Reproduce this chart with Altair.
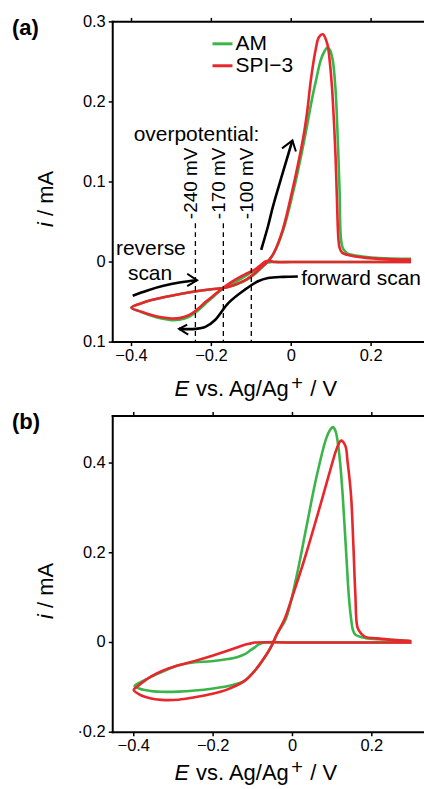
import altair as alt
import pandas as pd

FONT = "Liberation Sans"
GREEN = "#3ab54a"
RED = "#e8262b"

series_names = ["AM", "SPI−3"]
series_colors = [GREEN, RED]

x_ticks = [-0.4, -0.2, 0.0, 0.2]
x_tick_labels = ["−0.4", "−0.2", "0", "0.2"]
a_y_ticks = [-0.1, 0.0, 0.1, 0.2, 0.3]
a_y_tick_labels = ["0.1", "0", "0.1", "0.2", "0.3"]
b_y_ticks = [-0.2, 0.0, 0.2, 0.4]
b_y_tick_labels = ["·0.2", "0", "0.2", "0.4"]
a_x_domain = [-0.447, 0.33]
a_y_domain = [-0.1, 0.3]
b_x_domain = [-0.453, 0.329]
b_y_domain = [-0.2, 0.505]

# ---------- panel (a): AM (green) ; forward scan 0.3 -> -0.4 V, then reverse ----------
a_am_E = [0.30, 0.20, 0.10, 0.00, -0.05, -0.062, -0.075, -0.09, -0.11, -0.13,
          -0.15, -0.17, -0.19, -0.215, -0.235, -0.255, -0.28, -0.30, -0.325, -0.35,
          -0.375, -0.40,
          -0.375, -0.35, -0.30, -0.25, -0.20, -0.17, -0.15, -0.13, -0.11, -0.09,
          -0.075, -0.06, -0.045, -0.02, 0.006, 0.019, 0.035, 0.045, 0.053, 0.063,
          0.0737, 0.083, 0.0905, 0.097, 0.104, 0.111, 0.1166, 0.121, 0.124, 0.128,
          0.1315, 0.14, 0.152, 0.22, 0.30]
a_am_i = [0.0, 0.0, 0.0, 0.0, 0.0, -0.001, -0.005, -0.010, -0.016, -0.022,
          -0.027, -0.033, -0.041, -0.052, -0.061, -0.068, -0.072, -0.0725, -0.0705, -0.067,
          -0.0625, -0.057,
          -0.0515, -0.0475, -0.042, -0.0375, -0.034, -0.0325, -0.030, -0.0265, -0.0215, -0.0145,
          -0.0075, 0.0, 0.010, 0.040, 0.090, 0.119, 0.158, 0.185, 0.206, 0.229,
          0.252, 0.263, 0.268, 0.265, 0.252, 0.215, 0.152, 0.090, 0.032, 0.019,
          0.0153, 0.011, 0.009, 0.005, 0.004]

# ---------- panel (a): SPI-3 (red) ----------
a_spi_E = [0.30, 0.20, 0.10, 0.00, -0.04, -0.055, -0.066, -0.077, -0.09, -0.11,
           -0.13, -0.15, -0.17, -0.19, -0.215, -0.235, -0.255, -0.28, -0.30, -0.325,
           -0.35, -0.375, -0.40,
           -0.375, -0.35, -0.30, -0.25, -0.20, -0.17, -0.15, -0.13, -0.11, -0.09,
           -0.075, -0.06, -0.045, -0.0215, 0.003, 0.0157, 0.032, 0.0405, 0.049, 0.061,
           0.0695, 0.079, 0.090, 0.097, 0.1025, 0.107, 0.111, 0.115, 0.118, 0.121,
           0.127, 0.14, 0.16, 0.22, 0.30]
a_spi_i = [0.0, 0.0, 0.0, 0.0, 0.0, 0.0015, 0.0005, -0.004, -0.009, -0.014,
           -0.019, -0.025, -0.032, -0.040, -0.050, -0.059, -0.066, -0.070, -0.0705, -0.069,
           -0.066, -0.062, -0.057,
           -0.0515, -0.0475, -0.042, -0.0375, -0.034, -0.0325, -0.030, -0.026, -0.021, -0.0135,
           -0.0065, 0.0, 0.010, 0.040, 0.090, 0.119, 0.161, 0.190, 0.227, 0.265,
           0.281, 0.2845, 0.273, 0.248, 0.215, 0.175, 0.132, 0.069, 0.030, 0.018,
           0.012, 0.009, 0.007, 0.004, 0.003]

# ---------- panel (b): AM (green) ----------
b_am_E = [0.30, 0.0, -0.07, -0.085, -0.095, -0.11, -0.12, -0.14, -0.162, -0.204,
          -0.246, -0.287, -0.33, -0.355, -0.375, -0.398,
          -0.385, -0.372, -0.35, -0.33, -0.287, -0.246, -0.204, -0.162, -0.135, -0.12,
          -0.095, -0.07, -0.053, -0.04, -0.016, 0.0093, 0.0344, 0.0595, 0.0847, 0.095,
          0.1015, 0.108, 0.114, 0.12, 0.1266, 0.1317, 0.1367, 0.1418, 0.1476, 0.1518,
          0.1585, 0.185, 0.227, 0.294]
b_am_i = [0.0, 0.0, 0.0, -0.004, -0.011, -0.020, -0.026, -0.033, -0.037, -0.042,
          -0.044, -0.051, -0.066, -0.076, -0.085, -0.097,
          -0.103, -0.106, -0.109, -0.110, -0.1095, -0.107, -0.103, -0.097, -0.091, -0.085,
          -0.063, -0.033, -0.008, 0.017, 0.054, 0.143, 0.254, 0.365, 0.454, 0.474,
          0.480, 0.4726, 0.447, 0.402, 0.328, 0.254, 0.18, 0.106, 0.054, 0.030,
          0.0175, 0.0096, 0.007, 0.004]

# ---------- panel (b): SPI-3 (red) ----------
b_spi_E = [0.30, 0.0, -0.095, -0.105, -0.12, -0.14, -0.162, -0.204, -0.246, -0.287,
           -0.33, -0.355, -0.372, -0.388, -0.40,
           -0.385, -0.372, -0.35, -0.33, -0.287, -0.246, -0.204, -0.162, -0.12, -0.095,
           -0.07, -0.053, -0.04, -0.019, -0.005, 0.030, 0.065, 0.0973, 0.1115, 0.1225,
           0.133, 0.139, 0.1476, 0.1535, 0.1585, 0.164, 0.173, 0.185, 0.21, 0.25,
           0.30]
b_spi_i = [0.0, 0.0, 0.0, -0.002, -0.005, -0.011, -0.018, -0.030, -0.041, -0.051,
           -0.064, -0.075, -0.085, -0.096, -0.106,
           -0.116, -0.121, -0.126, -0.128, -0.1275, -0.122, -0.115, -0.104, -0.085, -0.063,
           -0.033, -0.008, 0.017, 0.054, 0.090, 0.185, 0.290, 0.391, 0.432, 0.450,
           0.439, 0.402, 0.328, 0.217, 0.107, 0.033, 0.020, 0.012, 0.0095, 0.006,
           0.003]

# ---------- panel (a) annotations ----------
overpot_E = [-0.24, -0.17, -0.10]
overpot_labels = ["-240 mV", "-170 mV", "-100 mV"]
overpot_label_E = [-0.25, -0.18, -0.11]

arr_rev_E = [-0.397, -0.36, -0.3225, -0.28, -0.2357]
arr_rev_i = [-0.042, -0.0355, -0.030, -0.0255, -0.0228]
head_rev_E = [-0.2605, -0.2357, -0.2605]
head_rev_i = [-0.0146, -0.0228, -0.030]

arr_fwd_E = [0.0166, -0.02, -0.058, -0.083, -0.116, -0.157, -0.19, -0.215, -0.24, -0.281]
arr_fwd_i = [-0.018, -0.0185, -0.020, -0.024, -0.0345, -0.051, -0.072, -0.081, -0.0835, -0.0835]
head_fwd_E = [-0.2605, -0.281, -0.258]
head_fwd_i = [-0.078, -0.0835, -0.0906]

arr_up_E = [-0.0752, -0.058, -0.046, -0.0215, 0.003]
arr_up_i = [0.0153, 0.045, 0.069, 0.111, 0.152]
head_up_E = [-0.023, 0.003, 0.0117]
head_up_i = [0.142, 0.152, 0.138]

ann_text = ["overpotential:", "reverse", "scan", "forward scan"]
ann_E = [-0.3945, -0.439, -0.409, 0.0248]
ann_i = [0.1517, 0.0091, -0.022, -0.0287]


def line_df(E, I, key="s"):
    assert len(E) == len(I), (len(E), len(I))
    return pd.DataFrame({"E": E, "i": I, "idx": list(range(len(E))), "id": key})


W = 311
HA = 321
HB = 317
TICK = 4


def one():
    return pd.DataFrame({"a": [0]})


def txt(s, x, y, size, **kw):
    return alt.Chart(pd.DataFrame({"t": [s]})).mark_text(
        font=FONT, fontSize=size, color="black", **kw
    ).encode(x=alt.value(x), y=alt.value(y), text="t:N")


def frame_layers(xs, ys, H, yticks, ylabels):
    X = lambda: alt.X("E:Q", scale=xs, axis=None)
    Y = lambda: alt.Y("v:Q", scale=ys, axis=None)
    xt = pd.DataFrame({"E": x_ticks, "t": x_tick_labels})
    yt = pd.DataFrame({"v": yticks, "t": ylabels})
    dom = dict(color="black", strokeWidth=2, strokeCap="square")
    tk = dict(color="black", strokeWidth=1.5)
    return [
        # domain lines: left, top, bottom
        alt.Chart(one()).mark_rule(**dom).encode(x=alt.value(0), y=alt.value(0), y2=alt.value(H)),
        alt.Chart(one()).mark_rule(**dom).encode(x=alt.value(0), x2=alt.value(W), y=alt.value(0)),
        alt.Chart(one()).mark_rule(**dom).encode(x=alt.value(0), x2=alt.value(W), y=alt.value(H)),
        # ticks (outward)
        alt.Chart(xt).mark_rule(**tk).encode(x=X(), y=alt.value(H), y2=alt.value(H + TICK)),
        alt.Chart(xt).mark_rule(**tk).encode(x=X(), y=alt.value(-TICK), y2=alt.value(0)),
        alt.Chart(yt).mark_rule(**tk).encode(y=Y(), x=alt.value(-TICK), x2=alt.value(0)),
        # tick labels
        alt.Chart(xt).mark_text(font=FONT, fontSize=16.5, color="black", baseline="top",
                                align="center").encode(x=X(), y=alt.value(H + 6), text="t:N"),
        alt.Chart(yt).mark_text(font=FONT, fontSize=16.5, color="black", baseline="middle",
                                align="right").encode(y=Y(), x=alt.value(-7), text="t:N"),
    ]


def panel(am, spi, xdom, ydom, yticks, ylabels, H, label, title_gap, extra):
    xs = alt.Scale(domain=xdom, nice=False, zero=False)
    ys = alt.Scale(domain=ydom, nice=False, zero=False)
    green = alt.Chart(am).mark_line(
        color=series_colors[0], strokeWidth=2.6, interpolate="catmull-rom"
    ).encode(
        x=alt.X("E:Q", scale=xs, axis=None),
        y=alt.Y("i:Q", scale=ys, axis=None),
        order="idx:Q",
    )
    red = alt.Chart(spi).mark_line(
        color=series_colors[1], strokeWidth=2.6, interpolate="catmull-rom"
    ).encode(
        x=alt.X("E:Q", scale=xs, axis=None),
        y=alt.Y("i:Q", scale=ys, axis=None),
        order="idx:Q",
    )
    layers = [green, red]
    layers += [f(xs, ys) for f in extra]
    layers += frame_layers(xs, ys, H, yticks, ylabels)
    # panel label
    layers.append(txt(label, -101, 13, 22, fontWeight="bold", align="left", baseline="alphabetic"))
    # y title  (i / mA)
    yb = H / 2 + 17 + 28
    layers.append(txt("i", -67, yb, 22, fontStyle="italic", angle=270, align="left", baseline="middle"))
    layers.append(txt("/ mA", -67, yb - 11, 22, angle=270, align="left", baseline="middle"))
    # x title  (E vs. Ag/Ag+ / V)
    base = H + title_gap
    layers.append(txt("E", 62, base, 22, fontStyle="italic", align="left", baseline="alphabetic"))
    layers.append(txt("vs. Ag/Ag", 83.5, base, 22, align="left", baseline="alphabetic"))
    layers.append(txt("+", 179, base - 6, 20, align="left", baseline="alphabetic"))
    layers.append(txt("/ V", 198, base, 22, align="left", baseline="alphabetic"))
    return alt.layer(*layers).properties(width=W, height=H)


def dashed(xs, ys):
    df = pd.DataFrame({"E": overpot_E, "top": [0.0486] * 3, "bot": [-0.1] * 3})
    return alt.Chart(df).mark_rule(color="black", strokeWidth=1.3, strokeDash=[5, 4]).encode(
        x=alt.X("E:Q", scale=xs, axis=None),
        y=alt.Y("top:Q", scale=ys, axis=None),
        y2="bot:Q",
    )


def overpot_text(xs, ys):
    df = pd.DataFrame({"E": overpot_label_E, "i": [0.0536] * 3, "t": overpot_labels})
    return alt.Chart(df).mark_text(font=FONT, fontSize=19, angle=270, align="left",
                                   baseline="middle", color="black").encode(
        x=alt.X("E:Q", scale=xs, axis=None), y=alt.Y("i:Q", scale=ys, axis=None), text="t:N")


def arrows(xs, ys):
    shafts = pd.concat([line_df(arr_rev_E, arr_rev_i, "rev"),
                        line_df(arr_fwd_E, arr_fwd_i, "fwd"),
                        line_df(arr_up_E, arr_up_i, "up")])
    return alt.Chart(shafts).mark_line(color="black", strokeWidth=2.6,
                                       interpolate="catmull-rom").encode(
        x=alt.X("E:Q", scale=xs, axis=None), y=alt.Y("i:Q", scale=ys, axis=None),
        detail="id:N", order="idx:Q")


def heads(xs, ys):
    hd = pd.concat([line_df(head_rev_E, head_rev_i, "rev"),
                    line_df(head_fwd_E, head_fwd_i, "fwd"),
                    line_df(head_up_E, head_up_i, "up")])
    return alt.Chart(hd).mark_line(color="black", strokeWidth=2.0).encode(
        x=alt.X("E:Q", scale=xs, axis=None), y=alt.Y("i:Q", scale=ys, axis=None),
        detail="id:N", order="idx:Q")


def annotations(xs, ys):
    df = pd.DataFrame({"E": ann_E, "i": ann_i, "t": ann_text})
    return alt.Chart(df).mark_text(font=FONT, fontSize=21, align="left",
                                   baseline="alphabetic", color="black").encode(
        x=alt.X("E:Q", scale=xs, axis=None), y=alt.Y("i:Q", scale=ys, axis=None), text="t:N")


def legend_green(xs, ys):
    return alt.Chart(one()).mark_rule(color=series_colors[0], strokeWidth=3).encode(
        x=alt.value(100), x2=alt.value(120), y=alt.value(22))


def legend_red(xs, ys):
    return alt.Chart(one()).mark_rule(color=series_colors[1], strokeWidth=3).encode(
        x=alt.value(100), x2=alt.value(120), y=alt.value(44))


def legend_t1(xs, ys):
    return txt(series_names[0], 123, 22, 21, align="left", baseline="middle")


def legend_t2(xs, ys):
    return txt(series_names[1], 123, 44, 21, align="left", baseline="middle")


panel_a = panel(line_df(a_am_E, a_am_i), line_df(a_spi_E, a_spi_i), a_x_domain, a_y_domain,
                a_y_ticks, a_y_tick_labels, HA, "(a)", 54,
                [dashed, overpot_text, arrows, heads, annotations,
                 legend_green, legend_red, legend_t1, legend_t2])
panel_b = panel(line_df(b_am_E, b_am_i), line_df(b_spi_E, b_spi_i), b_x_domain, b_y_domain,
                b_y_ticks, b_y_tick_labels, HB, "(b)", 48, [])

chart = alt.vconcat(panel_a, panel_b, spacing=11).properties(
    padding={"left": 12, "top": 13, "right": 0, "bottom": 0},
    background="white",
).configure_view(stroke=None)

chart.save("out.html", embed_options={"renderer": "svg", "actions": False})
